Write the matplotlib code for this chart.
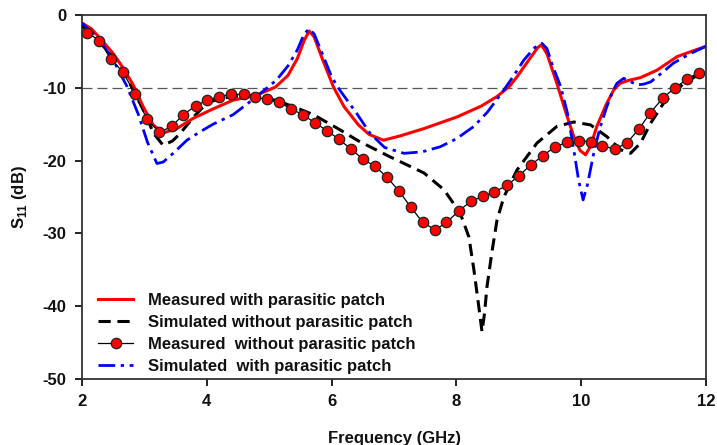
import matplotlib
matplotlib.use("Agg")
import matplotlib.pyplot as plt

plt.rcParams['font.family'] = ['Liberation Sans', 'DejaVu Sans']
plt.rcParams['font.weight'] = 'bold'
plt.rcParams['axes.unicode_minus'] = False
plt.rcParams['mathtext.fontset'] = 'custom'
plt.rcParams['mathtext.rm'] = 'Liberation Sans:bold'
plt.rcParams['mathtext.bf'] = 'Liberation Sans:bold'

# Measured with parasitic patch (red solid)
red_x = [2.0, 2.15, 2.3, 2.5, 2.66, 2.82, 2.98, 3.14, 3.3, 3.52, 3.78, 4.1, 4.42, 4.8, 5.1, 5.3, 5.45,
         5.56, 5.64, 5.72, 5.85, 6.03, 6.2, 6.43, 6.6, 6.83, 7.1, 7.48, 8.01, 8.4, 8.65, 8.85, 8.97,
         9.15, 9.3, 9.36, 9.45, 9.61, 9.75, 9.88, 9.98, 10.07, 10.15, 10.25, 10.4, 10.52, 10.62,
         10.75, 10.95, 11.21, 11.54, 11.8, 12.0]
red_y = [-1.1, -1.9, -3.3, -5.3, -7.3, -9.6, -12.6, -15.1, -16.2, -15.6, -14.2, -12.9, -11.7, -11.0,
         -9.9, -8.3, -6.0, -3.5, -2.2, -3.0, -6.0, -9.9, -12.6, -15.1, -16.4, -17.2, -16.6, -15.6,
         -14.0, -12.5, -11.2, -9.8, -8.5, -6.3, -4.5, -4.1, -5.3, -9.4, -13.3, -16.7, -18.6, -19.2,
         -18.0, -15.3, -12.3, -10.3, -9.4, -9.0, -8.6, -7.6, -5.7, -4.9, -4.3]

# Simulated without parasitic patch (black dashed)
blk_x = [2.0, 2.2, 2.45, 2.66, 2.82, 2.98, 3.15, 3.3, 3.45, 3.57, 3.8, 4.0, 4.2, 4.42, 4.8, 5.17,
         5.45, 5.71, 6.1, 6.43, 6.94, 7.48, 7.8, 8.06, 8.2, 8.28, 8.35, 8.41, 8.45, 8.49, 8.57, 8.65,
         8.76, 8.97, 9.29, 9.61, 9.88, 10.15, 10.41, 10.63, 10.79, 10.95, 11.11, 11.32, 11.64, 11.96]
blk_y = [-1.5, -3.0, -5.3, -7.6, -10.3, -13.0, -16.3, -17.9, -17.3, -16.3, -13.9, -12.1, -11.5,
         -11.2, -11.0, -11.9, -12.8, -13.7, -15.6, -17.3, -19.5, -21.7, -24.0, -27.2, -30.5, -35.0,
         -39.5, -43.5, -41.0, -37.3, -32.5, -28.2, -25.0, -21.3, -17.6, -15.3, -14.7, -15.1, -16.7,
         -18.5, -19.0, -17.6, -14.9, -12.1, -9.4, -7.8]

# Measured without parasitic patch (red circles)
mrk_x = [2.085, 2.28, 2.465, 2.66, 2.85, 3.04, 3.24, 3.44, 3.62, 3.82, 4.0, 4.2, 4.39, 4.59, 4.78,
         4.96, 5.16, 5.35, 5.54, 5.73, 5.93, 6.12, 6.31, 6.50, 6.70, 6.89, 7.08, 7.27, 7.46, 7.66,
         7.84, 8.04, 8.23, 8.43, 8.61, 8.81, 9.0, 9.19, 9.39, 9.58, 9.77, 9.96, 10.16, 10.34, 10.54,
         10.73, 10.93, 11.11, 11.31, 11.50, 11.70, 11.88]
mrk_y = [-2.43, -3.53, -6.09, -7.87, -10.9, -14.3, -16.1, -15.3, -13.7, -12.5, -11.7, -11.2, -10.9,
         -10.9, -11.3, -11.6, -12.0, -12.9, -13.7, -14.8, -15.9, -17.1, -18.4, -19.8, -20.8, -22.3,
         -24.2, -26.4, -28.5, -29.5, -28.5, -26.9, -25.6, -24.9, -24.3, -23.4, -22.1, -20.6, -19.3,
         -18.1, -17.5, -17.3, -17.4, -18.0, -18.4, -17.6, -15.6, -13.4, -11.4, -10.0, -8.8, -7.9]

# Simulated with parasitic patch (blue dash-dot)
blu_x = [2.0, 2.2, 2.35, 2.5, 2.72, 2.9, 3.05, 3.2, 3.3, 3.46, 3.68, 3.9, 4.1, 4.42, 4.8, 5.12, 5.3,
         5.45, 5.56, 5.64, 5.72, 5.85, 6.0, 6.13, 6.4, 6.62, 6.85, 7.16, 7.45, 7.74, 8.0, 8.28, 8.5,
         8.76, 8.92, 9.08, 9.25, 9.37, 9.45, 9.55, 9.67, 9.78, 9.88, 9.96, 10.03, 10.1, 10.2, 10.3,
         10.41, 10.5, 10.57, 10.68, 10.8, 10.9, 11.0, 11.11, 11.3, 11.48, 11.75, 12.0]
blu_y = [-1.1, -2.8, -4.3, -6.2, -9.8, -13.6, -17.5, -20.4, -20.2, -19.0, -17.2, -16.0, -15.0, -13.7,
         -11.2, -8.9, -7.0, -4.8, -2.6, -1.9, -2.6, -5.3, -8.5, -10.3, -13.5, -16.3, -18.2, -19.0,
         -18.8, -18.1, -17.0, -15.3, -13.3, -10.3, -8.3, -6.2, -4.5, -3.9, -4.6, -7.2, -9.8, -13.5,
         -18.5, -22.8, -25.4, -23.3, -19.0, -15.5, -12.6, -10.6, -9.4, -8.7, -9.2, -9.6, -9.5, -9.2,
         -7.9, -6.6, -5.3, -4.3]

ref_level = -10
xticks = [2, 4, 6, 8, 10, 12]
yticks = [0, -10, -20, -30, -40, -50]
labels = ["Measured with parasitic patch", "Simulated without parasitic patch",
          "Measured  without parasitic patch", "Simulated  with parasitic patch"]

fig = plt.figure(figsize=(7.17, 4.45), dpi=100)
ax = fig.add_axes([0.1144, 0.1483, 0.8703, 0.8180])

ax.axhline(ref_level, color='#555555', lw=0.9, dashes=(8, 4), zorder=1)

l1, = ax.plot(red_x, red_y, color='#ff0000', lw=2.2, zorder=4, label=labels[0])
l2, = ax.plot(blk_x, blk_y, color='black', lw=2.2, dashes=(4, 2.2), zorder=3, label=labels[1])
l3, = ax.plot(mrk_x, mrk_y, color='black', lw=0.9, marker='o', ms=7.5, mfc='#ff0000', mec='#222222',
              mew=0.9, zorder=5, label=labels[2])
l4, = ax.plot(blu_x, blu_y, color='#0000ff', lw=2.0, dashes=(6, 2, 1.2, 2), zorder=4, label=labels[3])

ax.set_xlim(2, 12)
ax.set_ylim(-50, 0)
ax.set_xticks(xticks)
ax.set_yticks(yticks)
ax.tick_params(direction='out', length=5, width=1.3, labelsize=12, pad=6, colors='#111111')
for lab in ax.get_xticklabels() + ax.get_yticklabels():
    lab.set_fontweight('bold')
for sp in ax.spines.values():
    sp.set_linewidth(1.3)
    sp.set_color('#333333')

ax.set_xlabel('Frequency (GHz)', fontsize=12, fontweight='bold', color='#111111')
ax.xaxis.set_label_coords(0.50, -0.143)
ax.set_ylabel(r'S$_{\mathbf{11}}$ (dB)', fontsize=12, fontweight='bold', color='#111111')
ax.yaxis.set_label_coords(-0.085, 0.5)

leg = ax.legend(handles=[l1, l2, l3, l4], loc='lower left', bbox_to_anchor=(0.01, -0.014),
                frameon=False, fontsize=12, handlelength=2.1, labelspacing=0.42,
                handletextpad=0.9, borderaxespad=0.3, borderpad=0.3)
for t in leg.get_texts():
    t.set_fontweight('bold')
    t.set_color('#111111')

fig.savefig('out.png', dpi=100)
